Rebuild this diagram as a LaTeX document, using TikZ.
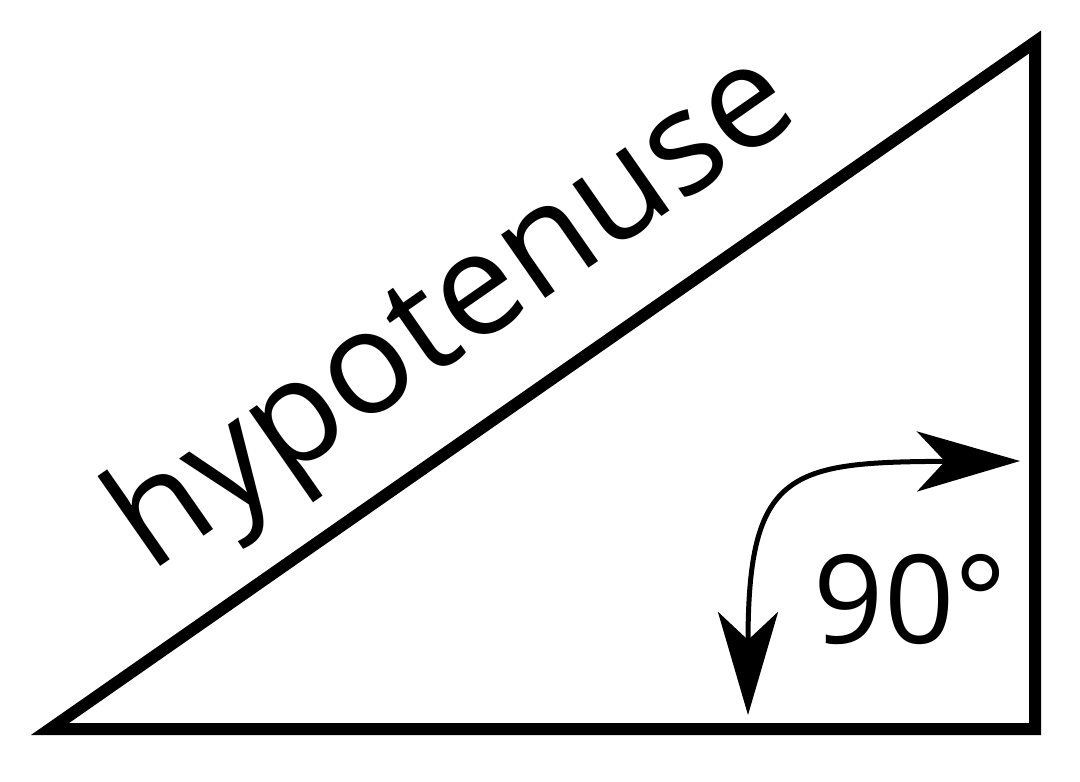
\documentclass[tikz,border=0pt]{standalone}
\usepackage{fontspec}
\setmainfont{Open Sans}
\usetikzlibrary{arrows.meta}
\tikzset{
  side/.style={line width=0.12cm, line join=miter},
  angarrow/.style={line width=0.05cm, {Stealth[length=1.03cm, width=0.6cm, inset=0.28cm]}-{Stealth[length=1.03cm, width=0.6cm, inset=0.28cm]}},
}
\begin{document}
\begin{tikzpicture}[x=0.01cm, y=-0.01cm]
  \useasboundingbox (0,0) rectangle (1080,781);
  \coordinate (A) at (50,729);
  \coordinate (B) at (1035,729);
  \coordinate (C) at (1035,42);
  \draw[side] (A) -- (B) -- (C) -- cycle;

  \node[anchor=base, rotate=34.9, inner sep=0, font=\fontsize{41}{49}\selectfont] (hyp) at (477,346) {hypotenuse};

  \coordinate (Ab) at (748,715);
  \coordinate (Ar) at (1020,461);
  \draw[angarrow] (Ab) .. controls (748,470) and (790,462) .. (Ar);
  \node[anchor=base west, inner sep=0, font=\fontsize{35}{42}\selectfont] (ang) at (813,643) {90°};
\end{tikzpicture}
\end{document}
